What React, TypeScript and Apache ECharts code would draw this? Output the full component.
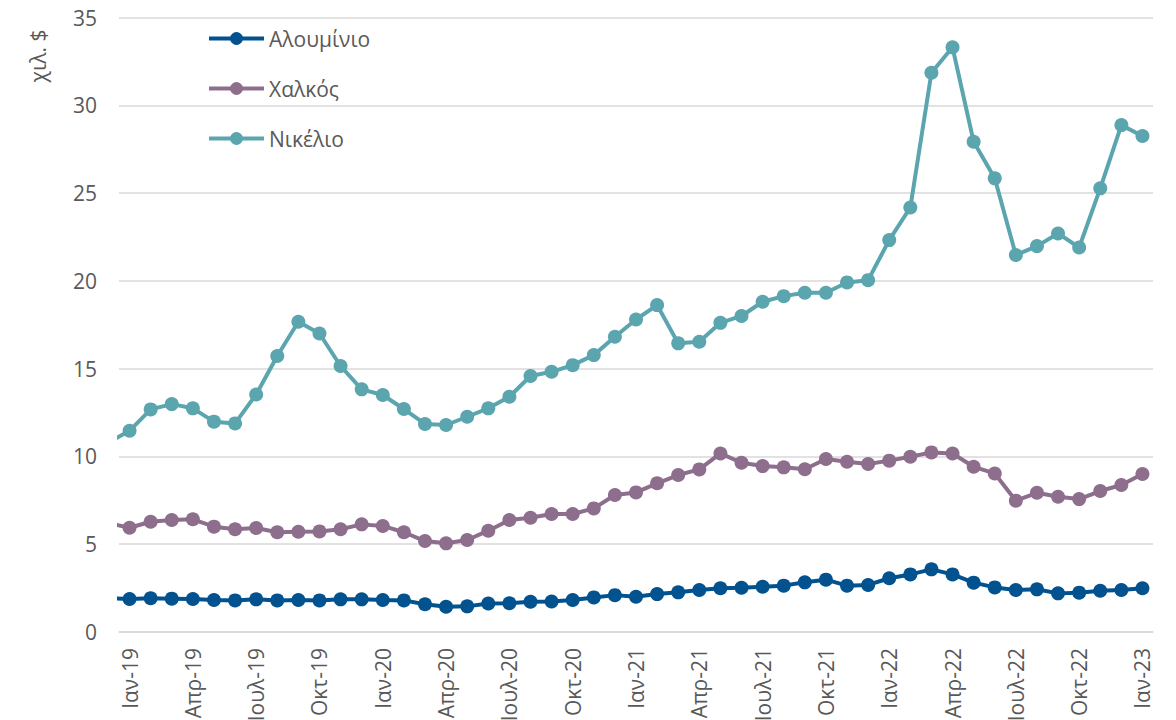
import React, { useEffect, useRef } from "react";
import * as echarts from "echarts";

// Month abbreviations (Greek) and years for the category axis
const monthNames = ["Ιαν", "Φεβ", "Μαρ", "Απρ", "Μαϊ", "Ιουν", "Ιουλ", "Αυγ", "Σεπ", "Οκτ", "Νοε", "Δεκ"];
const fullYears = ["19", "20", "21", "22"];
const lastLabel = "Ιαν-23";

const categories: string[] = [];
fullYears.forEach((y) => monthNames.forEach((m) => categories.push(`${m}-${y}`)));
categories.push(lastLabel);

const seriesNames = ["Αλουμίνιο", "Χαλκός", "Νικέλιο"];
const colors = ["#01528E", "#8D6E8D", "#5BA5AF"];

// First value of each series is Dec-18 (drawn half a month left of the plot, clipped)
const aluminium = [
  1.92,
  1.88, 1.92, 1.90, 1.88, 1.82, 1.80, 1.86, 1.80, 1.82, 1.80, 1.86, 1.86,
  1.82, 1.80, 1.58, 1.44, 1.46, 1.62, 1.64, 1.72, 1.74, 1.82, 1.97, 2.10,
  2.01, 2.16, 2.26, 2.39, 2.49, 2.52, 2.58, 2.64, 2.83, 2.98, 2.64, 2.68,
  3.06, 3.28, 3.57, 3.28, 2.81, 2.54, 2.39, 2.43, 2.20, 2.24, 2.35, 2.39,
  2.49,
];
const copper = [
  6.20,
  5.94, 6.28, 6.38, 6.42, 6.00, 5.85, 5.92, 5.68, 5.71, 5.73, 5.85, 6.13,
  6.04, 5.68, 5.18, 5.05, 5.24, 5.77, 6.38, 6.51, 6.72, 6.72, 7.04, 7.80,
  7.95, 8.47, 8.94, 9.26, 10.17, 9.64, 9.45, 9.38, 9.27, 9.85, 9.70, 9.57,
  9.76, 9.98, 10.23, 10.17, 9.41, 9.03, 7.48, 7.93, 7.70, 7.57, 8.03, 8.37,
  9.00,
];
const nickel = [
  10.80,
  11.46, 12.68, 12.98, 12.74, 11.98, 11.88, 13.53, 15.72, 17.67, 17.00, 15.15, 13.82,
  13.50, 12.70, 11.85, 11.79, 12.26, 12.74, 13.40, 14.58, 14.82, 15.20, 15.77, 16.82,
  17.80, 18.62, 16.44, 16.53, 17.61, 18.00, 18.81, 19.13, 19.32, 19.32, 19.91, 20.04,
  22.32, 24.18, 31.85, 33.30, 27.92, 25.84, 21.47, 21.98, 22.70, 21.90, 25.27, 28.87,
  28.25,
];

const yTicks = { min: 0, max: 35, interval: 5 };
const yTitle = "χιλ. $";

const FONT = "'Open Sans', 'Noto Sans', sans-serif";
const FS = 21;
const TEXT_COLOR = "#595959";
const GRID_COLOR = "#d9d9d9";

export default function App() {
  const ref = useRef<HTMLDivElement>(null);

  useEffect(() => {
    if (!ref.current) return;
    const chart = echarts.init(ref.current, undefined, { renderer: "svg" });
    const allSeries = [aluminium, copper, nickel];

    chart.setOption({
      animation: false,
      backgroundColor: "#ffffff",
      textStyle: { fontFamily: FONT },
      grid: {
        left: 119,
        right: 23,
        top: 17.5,
        bottom: 88,
        containLabel: false,
        outerBoundsMode: "none",
      },
      legend: {
        orient: "vertical",
        left: 207,
        top: 28,
        padding: 0,
        itemWidth: 55,
        itemHeight: 16,
        itemGap: 29,
        lineStyle: { width: 4 },
        textStyle: { fontSize: FS, color: TEXT_COLOR, fontFamily: FONT },
        data: seriesNames,
      },
      xAxis: [
        {
          type: "category",
          data: categories,
          boundaryGap: true,
          axisLine: { lineStyle: { color: GRID_COLOR, width: 1.5 } },
          axisTick: { interval: 2, length: 8, lineStyle: { color: GRID_COLOR, width: 1.5 } },
          axisLabel: {
            interval: 2,
            rotate: 90,
            fontSize: FS,
            color: TEXT_COLOR,
            fontFamily: FONT,
            margin: 16,
          },
          splitLine: { show: false },
        },
        {
          type: "value",
          min: -0.5,
          max: categories.length - 0.5,
          show: false,
          splitLine: { show: false },
        },
      ],
      yAxis: {
        type: "value",
        min: yTicks.min,
        max: yTicks.max,
        interval: yTicks.interval,
        axisLine: { show: false },
        axisTick: { show: false },
        splitLine: { lineStyle: { color: GRID_COLOR, width: 1.5 } },
        axisLabel: { fontSize: FS, color: TEXT_COLOR, fontFamily: FONT, margin: 22 },
      },
      graphic: [
        {
          type: "text",
          x: 38,
          y: 56,
          rotation: Math.PI / 2,
          style: {
            text: yTitle,
            fontSize: FS,
            fill: TEXT_COLOR,
            fontFamily: FONT,
            align: "center",
            verticalAlign: "middle",
          },
        },
      ],
      series: seriesNames.map((name, s) => ({
        type: "line",
        name,
        xAxisIndex: 1,
        clip: true,
        data: allSeries[s].map((v, k) => [k - 1, v]),
        symbol: "circle",
        symbolSize: 14,
        showAllSymbol: true,
        lineStyle: { width: 4, color: colors[s] },
        itemStyle: { color: colors[s] },
        z: 2 + (2 - s),
      })),
    });

    return () => chart.dispose();
  }, []);

  return (
    <div
      ref={ref}
      style={{ position: "absolute", left: 0, top: 0, width: 1176, height: 720, overflow: "hidden" }}
    />
  );
}
